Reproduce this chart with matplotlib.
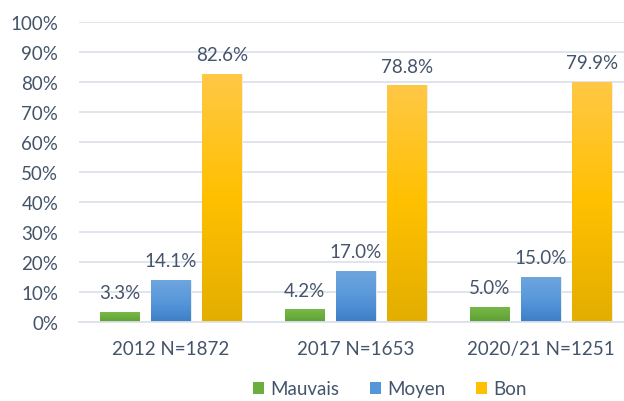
import matplotlib
matplotlib.use("Agg")
import matplotlib.pyplot as plt
import numpy as np
from matplotlib.colors import LinearSegmentedColormap
from matplotlib.patches import Patch

categories = ["2012 N=1872", "2017 N=1653", "2020/21 N=1251"]
series = ["Mauvais", "Moyen", "Bon"]
mauvais = [3.3, 4.2, 5.0]
moyen = [14.1, 17.0, 15.0]
bon = [82.6, 78.8, 79.9]
values = [mauvais, moyen, bon]
yticks = [0, 10, 20, 30, 40, 50, 60, 70, 80, 90, 100]

grad_colors = [
    ["#5E9E33", "#6CAE3E", "#78B94A"],
    ["#3E7EC5", "#5898DA", "#6FA6DE"],
    ["#E3AE00", "#FFC000", "#FFC846"],
]
solid = ["#6AAE3E", "#5596D8", "#FFC000"]
text_color = "#44546A"
grid_color = "#DDE2EA"

plt.rcParams['font.family'] = ['Lato', 'DejaVu Sans']

fig = plt.figure(figsize=(6.24, 4.02), dpi=100)
ax = fig.add_axes([79/624, 79/402, (624-79)/624, (323-22.7)/402])

x = np.arange(len(categories))
width = 0.216
offset = 0.278

for i, (name, vals) in enumerate(zip(series, values)):
    bars = ax.bar(x + (i - 1) * offset, vals, width, color=solid[i],
                  edgecolor="#F2F2F2", linewidth=0.6, zorder=2, label=name)
    cmap = LinearSegmentedColormap.from_list("g%d" % i, grad_colors[i])
    grad = np.linspace(0, 1, 256).reshape(-1, 1)
    for b, v in zip(bars, vals):
        x0 = b.get_x()
        w = b.get_width()
        im = ax.imshow(grad, cmap=cmap, origin="lower", aspect="auto",
                       extent=[x0, x0 + w, 0, b.get_height()], zorder=2.5)
        im.set_clip_path(b)
        ax.text(x0 + w / 2, v + 3.6, f"{v:.1f}%", ha="center", va="bottom",
                fontsize=13.5, color=text_color, zorder=4)

ax.set_xlim(-0.497, 2.449)
ax.set_ylim(0, 100)
ax.set_yticks(yticks)
ax.set_yticklabels([f"{t}%" for t in yticks])
ax.set_xticks(x)
ax.set_xticklabels(categories)
ax.tick_params(axis='both', length=0, labelsize=13.5, colors=text_color)
ax.tick_params(axis='y', pad=15)
ax.tick_params(axis='x', pad=13)
ax.yaxis.grid(True, color=grid_color, linewidth=1.3, zorder=0)
ax.set_axisbelow(True)
for s in ["top", "right", "left"]:
    ax.spines[s].set_visible(False)
ax.spines["bottom"].set_color(grid_color)
ax.spines["bottom"].set_linewidth(1.3)

handles = [Patch(facecolor=solid[i], edgecolor="none") for i in range(3)]
fig.legend(handles, series, loc="lower center", bbox_to_anchor=(0.625, -0.033),
           ncol=3, frameon=False, fontsize=13.5, labelcolor=text_color,
           handlelength=0.6, handleheight=0.6, handletextpad=0.35,
           columnspacing=1.6)

fig.savefig("out.png", dpi=100)
